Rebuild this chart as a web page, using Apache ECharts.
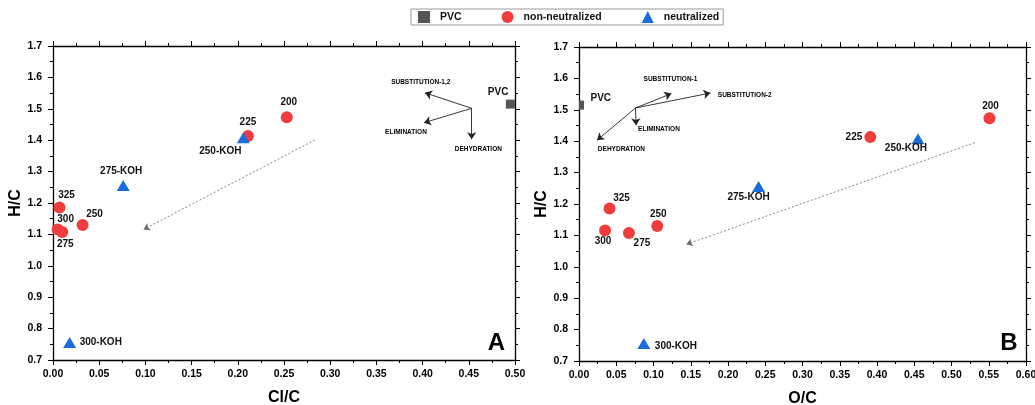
<!DOCTYPE html>
<html>
<head>
<meta charset="utf-8">
<script src="https://cdn.jsdelivr.net/npm/echarts@6/dist/echarts.min.js"></script>
<style>
  html, body { margin: 0; padding: 0; background: #fff; }
  #chart { width: 1035px; height: 405px; }
</style>
</head>
<body>
<div id="chart"></div>
<script>
// Samples (carbonisation temperature, °C) and their atomic ratios
const tempSamples = ['200', '225', '250', '275', '300', '325'];
const nonNeutClC  = [0.253, 0.211, 0.032, 0.010, 0.005, 0.007];
const nonNeutOC   = [0.551, 0.391, 0.105, 0.067, 0.035, 0.041];
const nonNeutHC   = [1.473, 1.413, 1.130, 1.108, 1.116, 1.186];

const kohSamples  = ['250-KOH', '275-KOH', '300-KOH'];
const neutClC     = [0.206, 0.076, 0.018];
const neutOC      = [0.455, 0.241, 0.087];
const neutHC      = [1.408, 1.256, 0.756];

const pvcName = ['PVC'];
const pvcClC  = [0.495];
const pvcOC   = [0.0];
const pvcHC   = [1.515];

// Axis ticks
const hcTicks = { min: 0.7, max: 1.7, interval: 0.1 };
const clTicks = { min: 0.0, max: 0.5, interval: 0.05 };
const ocTicks = { min: 0.0, max: 0.6, interval: 0.05 };

// Reaction-pathway vectors (start -> end, in data units)
const pathA = {
  origin: [0.4531, 1.5016],
  ends: [[0.4025, 1.551], [0.4015, 1.4557], [0.4531, 1.403]],
  texts: [['SUBSTITUTION-1,2', 0.398, 1.584, 'center'], ['ELIMINATION', 0.382, 1.427, 'center'], ['DEHYDRATION', 0.4603, 1.372, 'center']],
  trend: [[0.2834, 1.4006], [0.0982, 1.116]],
  letter: ['A', 0.480, 0.753]
};
const pathB = {
  origin: [0.0758, 1.5057],
  ends: [[0.1241, 1.5516], [0.1765, 1.5535], [0.0766, 1.4506], [0.0242, 1.403]],
  texts: [['SUBSTITUTION-1', 0.1228, 1.597, 'center'], ['SUBSTITUTION-2', 0.1863, 1.548, 'left'], ['ELIMINATION', 0.0793, 1.438, 'left'], ['DEHYDRATION', 0.057, 1.375, 'center']],
  trend: [[0.5315, 1.3955], [0.1443, 1.0717]],
  letter: ['B', 0.577, 0.757]
};

// Label placement relative to each marker: [dx, dy, align]
const labelsA = {
  '200': [2, -15], '225': [0, -14], '250': [12, -11], '275': [3, 12], '300': [8, -10], '325': [7, -12],
  '250-KOH': [-23, 14], '275-KOH': [-2, -14], '300-KOH': [10, 0, 'left'], 'PVC': [-2, -12, 'right']
};
const labelsB = {
  '200': [1, -12], '225': [-8, 0, 'right'], '250': [1, -12], '275': [13, 10], '300': [-2, 11], '325': [12, -10],
  '250-KOH': [-12, 10], '275-KOH': [-10, 11], '300-KOH': [11, 3, 'left'], 'PVC': [9, -7, 'left']
};

const FONT = '"Liberation Sans", Arial, sans-serif';
const RED = '#f03c3c';
const BLUE = '#1a6edb';
const GREY = '#555555';

function points(names, xs, ys, place) {
  return names.map((n, i) => {
    const p = place[n] || [0, 0];
    return { name: n, value: [xs[i], ys[i]], label: { offset: [p[0], p[1]], align: p[2] || 'center' } };
  });
}

function axisBase(t, showLabels, digits, margin) {
  return {
    min: t.min, max: t.max, interval: t.interval,
    splitLine: { show: false },
    axisLine: { show: true, onZero: false, lineStyle: { color: '#000', width: 1.3 } },
    axisTick: { show: true, inside: false, length: 5, lineStyle: { color: '#000', width: 1 } },
    minorTick: { show: true, splitNumber: 2, length: 3, lineStyle: { color: '#000', width: 1 } },
    axisLabel: {
      show: showLabels, margin: margin, color: '#000', fontSize: 10.5, fontWeight: 'bold', fontFamily: FONT,
      formatter: v => Number(v).toFixed(digits)
    }
  };
}

function xAxes(t, grid, name) {
  const bottom = Object.assign(axisBase(t, true, 2, 9), {
    type: 'value', gridIndex: grid, position: 'bottom', name: name, nameLocation: 'middle', nameGap: 30,
    nameTextStyle: { fontSize: 16, fontWeight: 'bold', color: '#000', fontFamily: FONT }
  });
  const top = Object.assign(axisBase(t, false, 2, 8), { type: 'value', gridIndex: grid, position: 'top' });
  return [bottom, top];
}

function yAxes(t, grid, gap) {
  const left = Object.assign(axisBase(t, true, 1, 11), {
    type: 'value', gridIndex: grid, position: 'left', name: 'H/C', nameLocation: 'middle', nameGap: gap,
    nameTextStyle: { fontSize: 16, fontWeight: 'bold', color: '#000', fontFamily: FONT }
  });
  const right = Object.assign(axisBase(t, false, 1, 8), { type: 'value', gridIndex: grid, position: 'right' });
  return [left, right];
}

const pointLabel = {
  show: true, position: 'inside', formatter: '{b}', color: '#111',
  fontSize: 10, fontWeight: 'bold', fontFamily: FONT
};

function panelSeries(xi, yi, clOrOc, kohX, pvcX, place, path, pvcShape) {
  const out = [];
  out.push({
    type: 'scatter', name: 'PVC', xAxisIndex: xi, yAxisIndex: yi, symbol: 'rect',
    symbolSize: pvcShape.size, symbolOffset: pvcShape.offset, itemStyle: { color: GREY, opacity: 1 },
    label: pointLabel, data: points(pvcName, pvcX, pvcHC, place), z: 3
  });
  out.push({
    type: 'scatter', name: 'non-neutralized', xAxisIndex: xi, yAxisIndex: yi, symbol: 'circle', symbolSize: 12,
    itemStyle: { color: RED, opacity: 1 }, label: pointLabel, data: points(tempSamples, clOrOc, nonNeutHC, place), z: 4
  });
  out.push({
    type: 'scatter', name: 'neutralized', xAxisIndex: xi, yAxisIndex: yi, symbol: 'triangle', symbolSize: [13, 11],
    itemStyle: { color: BLUE, opacity: 1 }, label: pointLabel, data: points(kohSamples, kohX, neutHC, place), z: 5
  });
  // reaction-pathway vectors and their captions
  out.push({
    type: 'scatter', name: 'pathways', xAxisIndex: xi, yAxisIndex: yi, symbolSize: 0, silent: true, z: 6,
    itemStyle: { opacity: 1 },
    label: { show: true, position: 'inside', formatter: '{b}', color: '#000', fontSize: 6.5, fontWeight: 'bold', fontFamily: FONT },
    data: path.texts.map(t => ({ name: t[0], value: [t[1], t[2]], label: { align: t[3] } })).concat([
      { name: path.letter[0], value: [path.letter[1], path.letter[2]], label: { fontSize: 24, color: '#000' } }
    ]),
    markLine: {
      silent: true, animation: false, symbol: ['none', 'arrow'], symbolSize: 7,
      label: { show: false },
      lineStyle: { color: '#222', width: 0.9, type: 'solid', opacity: 1 },
      data: path.ends.map(e => [{ coord: path.origin }, { coord: e }])
    }
  });
  // trend arrow
  out.push({
    type: 'scatter', name: 'trend', xAxisIndex: xi, yAxisIndex: yi, symbolSize: 0, silent: true, data: [],
    markLine: {
      silent: true, animation: false, symbol: ['none', 'arrow'], symbolSize: 6,
      label: { show: false },
      lineStyle: { color: '#666', width: 0.8, type: [2, 2] },
      data: [[{ coord: path.trend[0] }, { coord: path.trend[1] }]]
    }
  });
  return out;
}

const chart = echarts.init(document.getElementById('chart'), null, { renderer: 'canvas' });
chart.setOption({
  backgroundColor: '#fff',
  animation: false,
  textStyle: { fontFamily: FONT },
  legend: {
    data: ['PVC', 'non-neutralized', 'neutralized'],
    left: 411, top: 9, orient: 'horizontal',
    itemWidth: 12, itemHeight: 12, itemGap: 40,
    padding: [2, 4, 2, 7],
    borderColor: '#999', borderWidth: 1,
    itemStyle: { opacity: 1 },
    textStyle: { fontSize: 10.5, fontWeight: 'bold', color: '#111', fontFamily: FONT, padding: [0, 0, 0, 5] }
  },
  grid: [
    { left: 53, right: 520, top: 46, bottom: 45, outerBoundsMode: 'none', containLabel: false },
    { left: 579, right: 9, top: 47, bottom: 44, outerBoundsMode: 'none', containLabel: false }
  ],
  xAxis: [].concat(xAxes(clTicks, 0, 'Cl/C'), xAxes(ocTicks, 1, 'O/C')),
  yAxis: [].concat(yAxes(hcTicks, 0, 27), yAxes(hcTicks, 1, 27)),
  series: [].concat(
    panelSeries(0, 0, nonNeutClC, neutClC, pvcClC, labelsA, pathA, { size: [9, 9], offset: [0, 0] }),
    panelSeries(2, 2, nonNeutOC, neutOC, pvcOC, labelsB, pathB, { size: [5, 9], offset: [2.5, 0] })
  )
});
</script>
</body>
</html>
